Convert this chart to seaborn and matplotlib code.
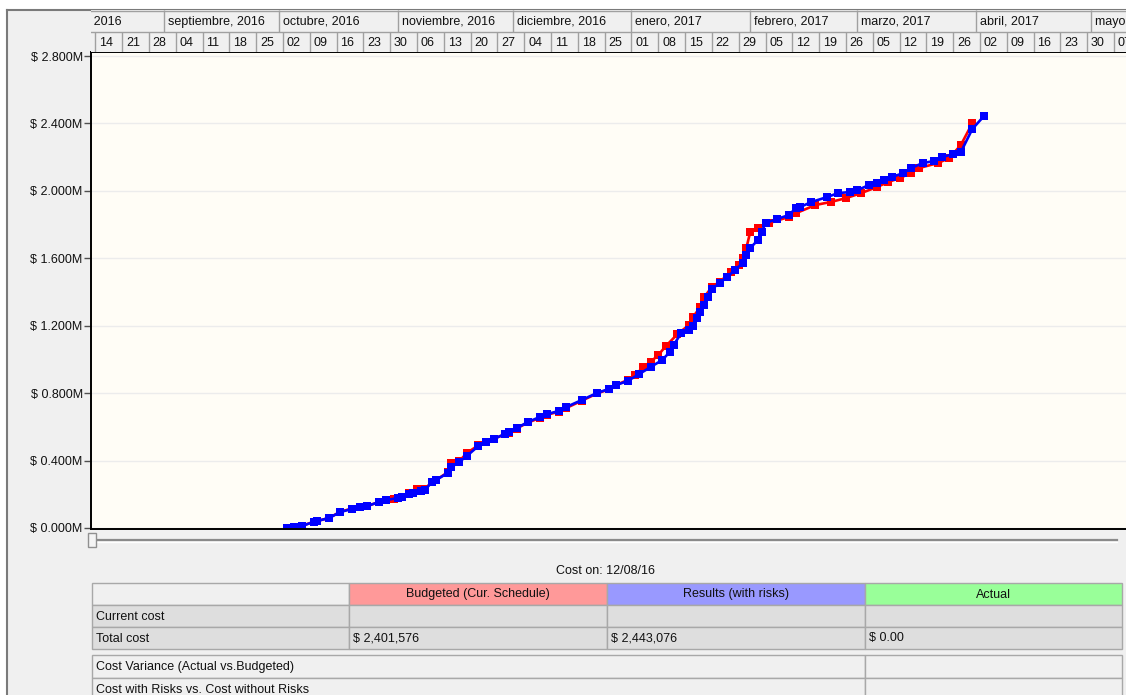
import numpy as np
import pandas as pd
import matplotlib
matplotlib.use("Agg")
import matplotlib.pyplot as plt
import matplotlib.dates as mdates
from matplotlib.patches import Rectangle
from matplotlib.ticker import FuncFormatter
import seaborn as sns

# ---- cumulative cost curves ($ millions) ----
# Budgeted (current schedule)
budget_dates = [
    "2016-10-03", "2016-10-05", "2016-10-07", "2016-10-10", "2016-10-11", "2016-10-14", "2016-10-17",
    "2016-10-20", "2016-10-22", "2016-10-24", "2016-10-27", "2016-10-29", "2016-10-31",
    "2016-11-02", "2016-11-04", "2016-11-06", "2016-11-08", "2016-11-10", "2016-11-11", "2016-11-14",
    "2016-11-15", "2016-11-17", "2016-11-19", "2016-11-22", "2016-11-24", "2016-11-26", "2016-11-29",
    "2016-11-30",
    "2016-12-02", "2016-12-05", "2016-12-08", "2016-12-10", "2016-12-13", "2016-12-15", "2016-12-19",
    "2016-12-23", "2016-12-26", "2016-12-28", "2016-12-31",
    "2017-01-02", "2017-01-04", "2017-01-06", "2017-01-08", "2017-01-10", "2017-01-13", "2017-01-16",
    "2017-01-17", "2017-01-19", "2017-01-20", "2017-01-22", "2017-01-24", "2017-01-27", "2017-01-29",
    "2017-01-30", "2017-01-31",
    "2017-02-01", "2017-02-03", "2017-02-06", "2017-02-11", "2017-02-13", "2017-02-18", "2017-02-22",
    "2017-02-26",
    "2017-03-02", "2017-03-06", "2017-03-09", "2017-03-12", "2017-03-15", "2017-03-17", "2017-03-22",
    "2017-03-25", "2017-03-28", "2017-03-31",
]
budget_cost = [
    0.000, 0.006, 0.014, 0.036, 0.042, 0.059, 0.097,
    0.115, 0.125, 0.130, 0.154, 0.166, 0.172,
    0.184, 0.205, 0.231, 0.233, 0.273, 0.285, 0.330,
    0.386, 0.395, 0.445, 0.490, 0.512, 0.530, 0.555,
    0.566,
    0.590, 0.626, 0.652, 0.672, 0.690, 0.712, 0.755,
    0.798, 0.822, 0.848, 0.878,
    0.905, 0.955, 0.985, 1.026, 1.080, 1.150, 1.204,
    1.250, 1.311, 1.370, 1.430, 1.460, 1.518, 1.560,
    1.600, 1.661,
    1.756, 1.779, 1.809, 1.845, 1.868, 1.916, 1.934,
    1.957,
    1.987, 2.022, 2.052, 2.076, 2.106, 2.135, 2.165,
    2.195, 2.272, 2.401576,
]

# Results (with risks)
risk_dates = [
    "2016-10-03", "2016-10-05", "2016-10-07", "2016-10-10", "2016-10-11", "2016-10-14", "2016-10-17",
    "2016-10-20", "2016-10-22", "2016-10-24", "2016-10-27", "2016-10-29",
    "2016-11-01", "2016-11-02", "2016-11-04", "2016-11-05", "2016-11-07", "2016-11-08", "2016-11-10",
    "2016-11-11", "2016-11-14", "2016-11-15", "2016-11-17", "2016-11-19", "2016-11-22", "2016-11-24",
    "2016-11-26", "2016-11-29", "2016-11-30",
    "2016-12-02", "2016-12-05", "2016-12-08", "2016-12-10", "2016-12-13", "2016-12-15", "2016-12-19",
    "2016-12-23", "2016-12-26", "2016-12-28", "2016-12-31",
    "2017-01-03", "2017-01-06", "2017-01-09", "2017-01-11", "2017-01-12", "2017-01-14", "2017-01-16",
    "2017-01-17", "2017-01-18", "2017-01-19", "2017-01-20", "2017-01-21", "2017-01-22", "2017-01-24",
    "2017-01-26", "2017-01-28", "2017-01-30", "2017-01-31",
    "2017-02-01", "2017-02-03", "2017-02-04", "2017-02-05", "2017-02-08", "2017-02-11", "2017-02-13",
    "2017-02-14", "2017-02-17", "2017-02-21", "2017-02-24", "2017-02-27",
    "2017-03-01", "2017-03-04", "2017-03-06", "2017-03-08", "2017-03-10", "2017-03-13", "2017-03-15",
    "2017-03-18", "2017-03-21", "2017-03-23", "2017-03-26", "2017-03-28", "2017-03-31",
    "2017-04-03",
]
risk_cost = [
    0.000, 0.006, 0.012, 0.036, 0.042, 0.059, 0.095,
    0.113, 0.125, 0.130, 0.154, 0.166,
    0.178, 0.184, 0.202, 0.208, 0.222, 0.226, 0.273,
    0.285, 0.326, 0.362, 0.391, 0.427, 0.486, 0.510,
    0.528, 0.558, 0.569,
    0.593, 0.629, 0.658, 0.676, 0.694, 0.718, 0.759,
    0.801, 0.824, 0.848, 0.872,
    0.913, 0.955, 0.996, 1.044, 1.085, 1.157, 1.174,
    1.198, 1.246, 1.281, 1.323, 1.370, 1.418, 1.453,
    1.489, 1.530, 1.572, 1.619,
    1.661, 1.708, 1.756, 1.809, 1.833, 1.856, 1.898,
    1.904, 1.934, 1.963, 1.987, 1.993,
    2.005, 2.034, 2.046, 2.064, 2.082, 2.106, 2.135,
    2.165, 2.177, 2.200, 2.218, 2.230, 2.367,
    2.443076,
]

actual_total = 0.0
cost_on_label = "Cost on: 12/08/16"

y_ticks = [0.0, 0.4, 0.8, 1.2, 1.6, 2.0, 2.4, 2.8]
month_names = ["enero", "febrero", "marzo", "abril", "mayo", "junio", "julio",
               "agosto", "septiembre", "octubre", "noviembre", "diciembre"]
table_columns = ["Budgeted (Cur. Schedule)", "Results (with risks)", "Actual"]
table_rows = ["Current cost", "Total cost"]
summary_rows = ["Cost Variance (Actual vs.Budgeted)", "Cost with Risks vs. Cost without Risks"]

view_start = pd.Timestamp("2016-08-12 21:00")
view_end = pd.Timestamp("2017-05-10 03:00")

# ---- figure & window frame ----
W, H = 1126, 695
FONT = ["Liberation Sans", "DejaVu Sans"]
plt.rcParams["font.family"] = FONT
plt.rcParams["font.size"] = 9

fig = plt.figure(figsize=(W / 100, H / 100), dpi=100, facecolor="white")


def frac(x0, y0, x1, y1):
    return [x0 / W, 1 - y1 / H, (x1 - x0) / W, (y1 - y0) / H]


frame = fig.add_axes([0, 0, 1, 1], zorder=0)
frame.set_xlim(0, W)
frame.set_ylim(H, 0)
frame.axis("off")
frame.add_patch(Rectangle((7, 10), W - 7, H - 10, facecolor="#f0f0f0", edgecolor="none"))
frame.plot([7, 7], [10, H], color="#7a7a7a", lw=1.5)
frame.plot([7, W], [10, 10], color="#7a7a7a", lw=1.5)

# ---- main chart ----
ax = fig.add_axes(frac(91, 52, W, 529), zorder=2)
ax.set_facecolor("#fffdf6")

budget_df = pd.DataFrame({"date": pd.to_datetime(budget_dates), "cost": budget_cost})
risk_df = pd.DataFrame({"date": pd.to_datetime(risk_dates), "cost": risk_cost})

line_kw = dict(marker="s", markersize=5.3, markeredgewidth=0, linewidth=1.9)
sns.lineplot(data=budget_df, x="date", y="cost", ax=ax, color="#ff0000", **line_kw)
sns.lineplot(data=risk_df, x="date", y="cost", ax=ax, color="#0000ff", **line_kw)

ax.set_xlim(view_start, view_end)
ax.set_ylim(-0.006, 2.824)
ax.set_xticks([])
ax.set_yticks(y_ticks)
ax.yaxis.set_major_formatter(FuncFormatter(lambda v, _: f"$ {v:.3f}M"))
ax.tick_params(axis="y", length=5, width=1, color="#505050", labelsize=9, pad=1, labelcolor="#111111")
ax.yaxis.grid(True, color="#ececec", linewidth=1)
ax.set_axisbelow(True)
ax.set_xlabel("")
ax.set_ylabel("")
for side in ("left", "bottom", "top"):
    ax.spines[side].set_color("#000000")
    ax.spines[side].set_linewidth(1.4)
ax.spines["right"].set_visible(False)

# ---- timescale header: months and weeks ----
hx = fig.add_axes(frac(91, 10, W, 52), zorder=3)
hx.set_facecolor("#f0f0f0")
hx.set_xlim(view_start, view_end)
hx.set_ylim(42, 0)
hx.set_xticks([])
hx.set_yticks([])
for s in hx.spines.values():
    s.set_visible(False)
hx.axhline(22, color="#a0a0a0", lw=1)
hx.axhline(0.5, color="#a0a0a0", lw=1)

month_starts = pd.date_range("2016-08-01", "2017-06-01", freq="MS")
for m in month_starts:
    hx.vlines(m, 0, 22, color="#a0a0a0", lw=1)
    hx.text(mdates.date2num(m) + 1.0, 11.5, f"{month_names[m.month - 1]}, {m.year}",
            ha="left", va="center", fontsize=9, color="#111111", clip_on=True)

week_starts = pd.date_range("2016-08-07", "2017-05-14", freq="W-SUN")
for w in week_starts:
    hx.vlines(w, 22, 42, color="#a0a0a0", lw=1)
    hx.text(mdates.date2num(w) + 1.0, 32.5, f"{w.day:02d}",
            ha="left", va="center", fontsize=9, color="#111111", clip_on=True)

# ---- date slider ----
frame.plot([92, 1117], [539.5, 539.5], color="#8a8a8a", lw=1.6, zorder=1)
frame.plot([92, 1117], [541.5, 541.5], color="#ffffff", lw=1.0, zorder=1)
frame.add_patch(Rectangle((88, 533), 8, 14, facecolor="#f4f4f4", edgecolor="#909090", lw=1, zorder=2))

frame.text(606, 571, cost_on_label, ha="center", va="center", fontsize=9, color="#111111")

# ---- cost summary table ----
col_edges = [92, 349, 607, 865, 1122]
head_colors = ["#f0f0f0", "#ff9999", "#9999ff", "#99ff99"]
grid_col = "#a8a8a8"


def cell(x0, y0, x1, y1, fc, text=None, align="left"):
    frame.add_patch(Rectangle((x0, y0), x1 - x0, y1 - y0, facecolor=fc, edgecolor=grid_col, lw=1))
    if text is not None:
        if align == "center":
            frame.text((x0 + x1) / 2, (y0 + y1) / 2 + 0.5, text, ha="center", va="center",
                       fontsize=9, color="#111111")
        else:
            frame.text(x0 + 4, (y0 + y1) / 2 + 0.5, text, ha="left", va="center",
                       fontsize=9, color="#111111")


# header row
cell(col_edges[0], 583, col_edges[1], 605, head_colors[0])
for i, name in enumerate(table_columns):
    cell(col_edges[i + 1], 583, col_edges[i + 2], 605, head_colors[i + 1], name, align="center")

totals = [f"$ {budget_cost[-1] * 1e6:,.0f}", f"$ {risk_cost[-1] * 1e6:,.0f}", f"$ {actual_total:,.2f}"]
row_vals = {"Current cost": ["", "", ""], "Total cost": totals}
row_top = 605
for name in table_rows:
    cell(col_edges[0], row_top, col_edges[1], row_top + 22, "#dedede", name)
    for i, v in enumerate(row_vals[name]):
        cell(col_edges[i + 1], row_top, col_edges[i + 2], row_top + 22, "#dedede", v)
    row_top += 22

row_top = 655
for name in summary_rows:
    cell(92, row_top, 865, row_top + 23, "#f0f0f0", name)
    cell(865, row_top, 1122, row_top + 23, "#f0f0f0")
    row_top += 23

fig.savefig("out.png", dpi=100, facecolor=fig.get_facecolor())
